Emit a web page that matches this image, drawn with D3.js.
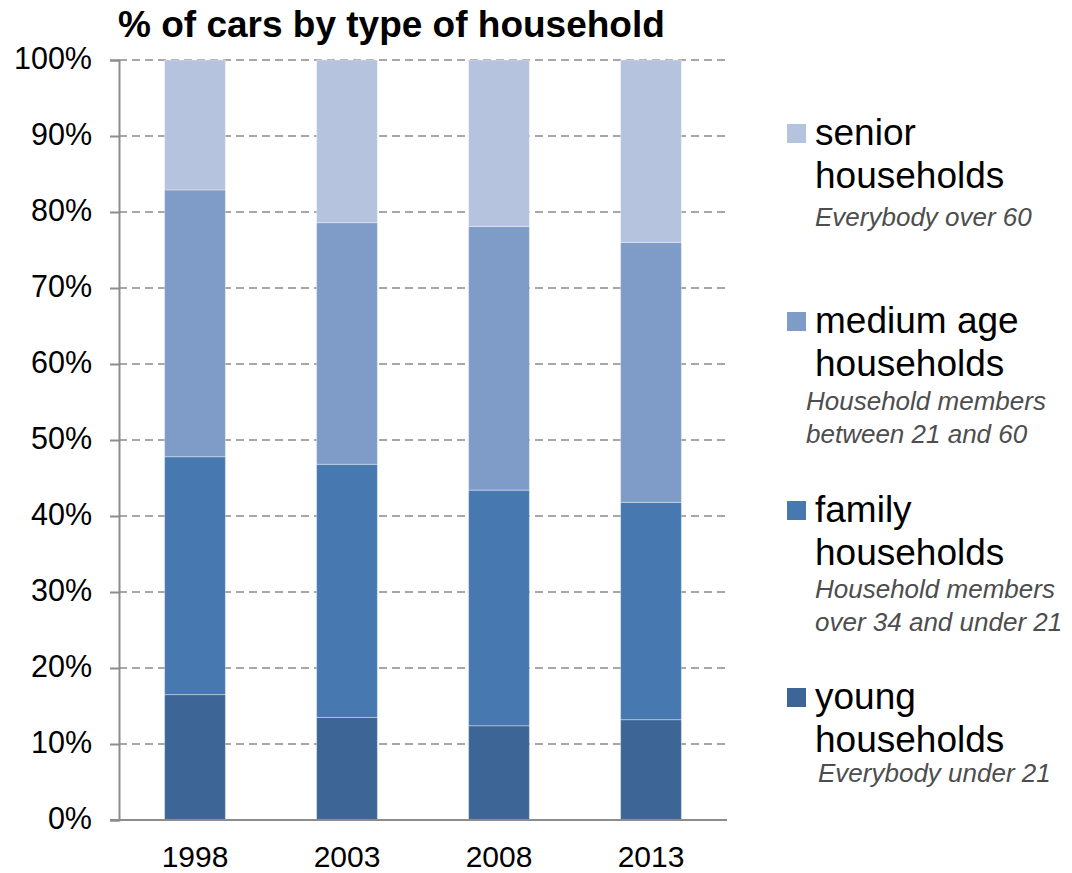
<!DOCTYPE html>
<html>
<head>
<meta charset="utf-8">
<script src="https://cdn.jsdelivr.net/npm/d3@7"></script>
<style>
  html, body { margin: 0; padding: 0; background: #fff; }
  svg { display: block; }
  svg text { font-family: Arial, "Liberation Sans", Helvetica, sans-serif; }
</style>
</head>
<body>
<svg id="chart" width="1072" height="873"></svg>
<script>
// ---- data ----
const years = ["1998", "2003", "2008", "2013"];
const young  = [16.5, 13.5, 12.4, 13.2];
const family = [31.3, 33.3, 31.0, 28.6];
const medium = [35.1, 31.8, 34.7, 34.2];
const senior = [17.1, 21.4, 21.9, 24.0];
const yTicks = [0, 10, 20, 30, 40, 50, 60, 70, 80, 90, 100];
const seriesKeys = ["young", "family", "medium", "senior"];
const seriesColors = ["#3D6596", "#4878B0", "#7F9CC8", "#B6C3DE"];
const legendTitles = [
  ["senior", "households"],
  ["medium age", "households"],
  ["family", "households"],
  ["young", "households"]
];
const legendNotes = [
  ["Everybody over 60"],
  ["Household members", "between 21 and 60"],
  ["Household members", "over 34 and under 21"],
  ["Everybody under 21"]
];
const legendKeys = ["senior", "medium", "family", "young"];
const chartTitle = "% of cars by type of household";

// ---- build table ----
const table = years.map((yr, i) => ({
  year: yr, young: young[i], family: family[i], medium: medium[i], senior: senior[i]
}));
const stackData = d3.stack().keys(seriesKeys)(table);

const FONT = 'Arial, "Liberation Sans", Helvetica, sans-serif';
const svg = d3.select("#chart");
const plotLeft = 119, plotRight = 727, plotTop = 60, plotBottom = 820;

const x = d3.scaleBand().domain(years).range([plotLeft, plotRight]).paddingInner(0.6).paddingOuter(0.3);
const y = d3.scaleLinear().domain([0, 100]).range([plotBottom, plotTop]);
const color = d3.scaleOrdinal().domain(seriesKeys).range(seriesColors);

// gridlines
svg.append("g")
  .selectAll("line")
  .data(yTicks.filter(d => d > 0))
  .join("line")
  .attr("x1", plotLeft).attr("x2", plotRight)
  .attr("y1", d => y(d)).attr("y2", d => y(d))
  .attr("stroke", "#8a8a8a")
  .attr("stroke-width", 1.6)
  .attr("stroke-dasharray", "8,5");

// bars
svg.append("g")
  .selectAll("g")
  .data(stackData)
  .join("g")
  .attr("fill", d => color(d.key))
  .selectAll("rect")
  .data(d => d)
  .join("rect")
  .attr("x", d => x(d.data.year))
  .attr("width", x.bandwidth())
  .attr("y", d => y(d[1]))
  .attr("height", d => y(d[0]) - y(d[1]))
  .attr("stroke", "rgba(255,255,255,0.35)")
  .attr("stroke-width", 1);

// y axis
const yAxis = d3.axisLeft(y)
  .tickValues(yTicks)
  .tickFormat(d => d + "%")
  .tickSize(9)
  .tickPadding(18);
const gy = svg.append("g").attr("transform", `translate(${plotLeft},0)`).call(yAxis)
  .attr("font-family", FONT).attr("font-size", 30.5);
gy.select(".domain").attr("stroke", "#8c8c8c").attr("stroke-width", 2);
gy.selectAll(".tick line").attr("stroke", "#8c8c8c").attr("stroke-width", 2);
gy.selectAll(".tick text").attr("fill", "#000").attr("dy", "0.28em");

// x axis
const xAxis = d3.axisBottom(x).tickSize(0).tickPadding(26);
const gx = svg.append("g").attr("transform", `translate(0,${plotBottom})`).call(xAxis)
  .attr("font-family", FONT).attr("font-size", 30);
gx.select(".domain").attr("stroke", "#8c8c8c").attr("stroke-width", 2)
  .attr("d", `M${plotLeft - 9},0H${plotRight}`);
gx.selectAll(".tick text").attr("fill", "#000").attr("dy", "0.71em");

// title
svg.append("text")
  .attr("x", 118).attr("y", 37)
  .attr("font-family", FONT)
  .attr("font-size", 37)
  .attr("font-weight", "bold")
  .attr("fill", "#000")
  .text(chartTitle);

// legend
const legendBase = [145, 333, 522, 709];
const noteOffset = [81, 77, 76, 73];
const noteX = [815, 806, 815, 818];
const lg = svg.append("g").attr("font-family", FONT);
legendKeys.forEach((k, i) => {
  const base = legendBase[i];
  lg.append("rect")
    .attr("x", 787).attr("y", base - 21)
    .attr("width", 19).attr("height", 19)
    .attr("fill", color(k));
  legendTitles[i].forEach((t, j) => {
    lg.append("text")
      .attr("x", 815).attr("y", base + j * 42.5)
      .attr("font-size", 37)
      .attr("fill", "#000")
      .text(t);
  });
  legendNotes[i].forEach((t, j) => {
    lg.append("text")
      .attr("x", noteX[i]).attr("y", base + noteOffset[i] + j * 32.5)
      .attr("font-size", 26)
      .attr("font-style", "italic")
      .attr("fill", "#4d4d4d")
      .text(t);
  });
});
</script>
</body>
</html>
